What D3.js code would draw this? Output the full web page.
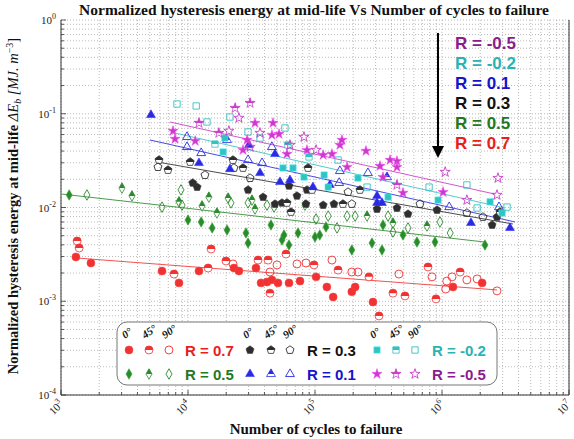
<!DOCTYPE html>
<html>
<head>
<meta charset="utf-8">
<script src="https://cdn.jsdelivr.net/npm/d3@7"></script>
<style>
  body { margin: 0; background: #fff; }
  svg { display: block; }
</style>
</head>
<body>
<script>
// Chart size
var W = 574, H = 439;
var pLeft = 61, pRight = 569, pTop = 20, pBottom = 395;

// tick values
const xTicks = [1e3, 1e4, 1e5, 1e6, 1e7];
const yTicks = [1e-4, 1e-3, 1e-2, 1e-1, 1e0];

// R = 0.7 (circles)   [N, dEb]
const red0 = [[1.31e3,2.97e-3],[1.72e3,2.56e-3],[6.24e3,2.10e-3],[8.49e3,1.57e-3],[1.22e4,2.10e-3],[2.30e4,2.26e-3],[2.52e4,2.10e-3],[3.43e4,2.26e-3],[3.76e4,1.57e-3],[4.19e4,1.60e-3],[4.58e4,1.69e-3],[5.11e4,1.57e-3],[6.24e4,1.57e-3],[7.62e4,1.64e-3],[1.02e5,1.82e-3],[1.24e5,1.42e-3],[1.39e5,1.11e-3],[2.07e5,1.42e-3],[1.95e5,1.26e-3],[2.86e5,9.8e-4],[1.22e6,1.42e-3],[2.07e6,1.57e-3]];
const red45 = [[1.34e3,4.39e-3],[1.39e3,3.70e-3],[7.76e3,1.95e-3],[1.44e4,2.26e-3],[1.52e4,3.61e-3],[1.99e4,2.69e-3],[3.56e4,2.75e-3],[4.27e4,2.75e-3],[4.42e4,1.22e-3],[5.91e4,3.19e-3],[9.82e4,2.44e-3],[1.52e5,2.15e-3],[2.66e5,1.82e-3],[3.19e5,6.97e-4],[4.11e5,1.22e-3],[5.11e5,1.14e-3],[7.76e5,2.32e-3],[8.97e5,1.06e-3],[1.39e6,2.05e-3]];
const red90 = [[2.26e4,2.50e-3],[5.02e4,2.44e-3],[4.42e4,2.05e-3],[7.21e4,2.50e-3],[8.49e4,2.56e-3],[1.36e5,2.75e-3],[1.95e5,2.05e-3],[2.18e5,2.05e-3],[4.58e5,1.95e-3],[8.34e5,1.82e-3],[1.20e6,1.82e-3],[1.09e6,1.64e-3],[1.07e6,1.35e-3],[1.57e6,1.69e-3],[1.89e6,1.73e-3],[2.71e6,1.29e-3]];
const redFit = [[1.34e3,2.89e-3],[2.71e6,1.32e-3]];

// R = 0.5 (diamonds)
const green0 = [[1.16e3,0.0136],[1.0e4,0.00736],[1.27e4,0.00701],[1.55e4,0.00605],[2.03e4,0.00576],[2.86e4,0.00535],[2.97e4,0.00418],[4.50e4,0.00651],[5.50e4,0.0045],[5.70e4,0.00509],[6.24e4,0.00398],[7.35e4,0.00535],[1.0e5,0.00485],[1.09e5,0.00509],[1.22e5,0.0062],[1.95e5,0.00352],[2.81e5,0.00418],[3.37e5,0.00352],[3.43e5,0.00651],[4.93e5,0.00509],[6.35e5,0.00428],[8.81e5,0.00428],[2.18e6,0.00398]];
const green45 = [[3.02e3,0.0161],[3.62e3,0.0133],[8.49e3,0.0115],[1.46e4,0.0129],[1.29e4,0.0104],[1.69e4,0.00874],[2.07e4,0.0126],[3.37e4,0.00964],[3.19e4,0.0120],[8.34e4,0.0106],[2.57e5,0.00811],[4.11e5,0.00684],[7.62e5,0.00635]];
const green90 = [[1.60e3,0.0136],[6.24e3,0.0101],[8.81e3,0.0154],[8.97e3,0.0106],[2.18e4,0.0112],[2.97e4,0.0112],[4.19e4,0.0106],[4.76e4,0.0101],[1.02e5,0.00754],[1.27e5,0.00811],[1.49e5,0.00605],[1.79e5,0.00811],[2.07e5,0.00811],[3.76e5,0.00811],[4.11e5,0.00548],[5.40e5,0.00605],[9.64e5,0.00701],[1.16e6,0.00535]];
const greenFit = [[1.02e3,0.0139],[2.18e6,0.00428]];

// R = 0.3 (pentagons)
const black0 = [[1.09e4,0.0183],[1.18e4,0.0165],[2.97e4,0.0154],[3.90e4,0.0129],[4.84e4,0.0109],[5.50e4,0.0112],[6.24e4,0.0170],[7.21e4,0.0133],[8.65e4,0.0154],[8.49e4,0.0109],[1.16e5,0.0106],[1.41e5,0.0109],[3.08e5,0.00964],[4.42e5,0.00988],[5.40e5,0.00853],[9.14e5,0.0094],[2.48e6,0.00651],[2.71e6,0.00792]];
const black45 = [[5.91e3,0.0321],[6.96e3,0.0251],[1.04e4,0.0306],[2.26e4,0.0321],[2.71e4,0.0264],[6.02e4,0.0112],[6.47e4,0.00896],[8.81e4,0.0264],[9.47e4,0.0154],[1.66e5,0.0109],[2.26e5,0.0154],[2.86e6,0.00896]];
const black90 = [[5.80e3,0.0270],[1.36e4,0.0222],[2.30e4,0.0264],[3.08e4,0.0206],[1.82e5,0.0146],[1.95e5,0.0109],[6.71e5,0.0109],[1.57e6,0.00874],[2.10e6,0.00792]];
const blackFit = [[5.70e3,0.0306],[3.62e6,0.00667]];

// R = 0.1 (triangles)
const blue0 = [[5.11e3,0.097],[1.22e4,0.0298],[2.14e4,0.0257],[3.02e4,0.0464],[3.69e4,0.0233],[4.84e4,0.0372],[5.30e4,0.0187],[6.35e4,0.0196],[9.64e4,0.0165],[1.31e5,0.0174],[3.08e5,0.0133],[3.08e5,0.0112],[3.37e5,0.0112],[1.69e6,0.00684],[3.43e6,0.00605]];
const blue45 = [[2.03e4,0.0525],[3.69e5,0.0211]];
const blue90 = [[9.82e3,0.0565],[9.82e3,0.0442],[1.27e4,0.0381],[3.83e4,0.0298],[2.97e4,0.0321],[4.58e4,0.0442],[1.57e5,0.0245],[1.55e5,0.0183],[2.61e5,0.0233],[1.14e6,0.0101],[2.81e6,0.0101]];
const blueFit = [[5.02e3,0.0525],[3.76e6,0.00701]];

// R = -0.2 (squares)
const cyan0 = [[1.95e4,0.0551],[1.89e4,0.0391],[5.60e4,0.0264],[6.71e4,0.0264],[8.19e4,0.0211],[1.18e5,0.0222],[1.27e5,0.0165],[2.18e5,0.0206],[3.76e5,0.0129],[9.31e5,0.012],[2.39e6,0.0115],[2.97e6,0.00874]];
const cyan45 = [[1.63e4,0.0475],[6.12e4,0.0464],[8.97e4,0.0346]];
const cyan90 = [[8.19e3,0.127],[1.16e4,0.121],[1.41e4,0.0817],[2.14e4,0.0923],[2.97e4,0.0638],[3.69e4,0.0551],[5.80e4,0.0705],[1.52e5,0.0321],[2.57e5,0.0165],[7.91e5,0.0165],[1.57e6,0.0174],[1.89e6,0.00988],[3.25e6,0.0101]];
const cyanFit = [[7.90e3,0.0623],[3.13e6,0.00988]];

// R = -0.5 (stars)
const pink0 = [[7.62e3,0.0655],[7.90e3,0.0538],[1.14e4,0.0512],[2.92e4,0.0525],[3.37e4,0.0797],[4.58e4,0.0593],[4.67e4,0.0797],[5.21e4,0.0608],[6.02e4,0.0372],[8.65e4,0.041],[2.71e4,0.041],[1.16e5,0.0363],[1.36e5,0.0372],[1.57e5,0.0464],[1.63e5,0.0525],[2.52e5,0.0401],[3.25e5,0.0277],[3.90e5,0.0321],[4.42e5,0.0313],[4.42e5,0.027],[1.79e5,0.027],[3.43e5,0.0211],[4.93e5,0.0143],[1.02e6,0.0146]];
const pink45 = [[1.22e4,0.0797],[1.75e4,0.0623],[2.35e4,0.115],[3.08e4,0.130],[4.42e5,0.0174]];
const pink90 = [[2.10e4,0.0655],[2.52e4,0.0901],[3.69e4,0.0623],[6.35e4,0.0464],[8.19e4,0.0565],[1.02e5,0.041],[3.08e4,0.0442],[1.06e6,0.0239],[1.57e6,0.012],[2.76e6,0.0206],[2.71e6,0.0136]];
const pinkFit = [[7.21e3,0.0817],[2.61e6,0.0139]];

const rLabels = ["R = 0.7", "R = 0.5", "R = 0.3", "R = 0.1", "R = -0.2", "R = -0.5"];
const angles = ["0°", "45°", "90°"];

// custom pentagon symbol
var symbolPentagon = {
  draw: function (ctx, size) {
    var r = Math.sqrt(size / 2.378);
    for (var i = 0; i < 5; i++) {
      var a = -Math.PI / 2 + i * 2 * Math.PI / 5;
      if (i === 0) ctx.moveTo(r * Math.cos(a), r * Math.sin(a));
      else ctx.lineTo(r * Math.cos(a), r * Math.sin(a));
    }
    ctx.closePath();
  }
};

// series table built from the arrays above
var series = [
  {name: rLabels[0], color: "#f03232", text: "#e81e1e", shape: d3.symbolCircle, size: 50, pts: [red0, red45, red90], fit: redFit},
  {name: rLabels[1], color: "#2b8a2b", text: "#1f7a1f", shape: d3.symbolDiamond, size: 32, pts: [green0, green45, green90], fit: greenFit},
  {name: rLabels[2], color: "#2e2e2e", text: "#111111", shape: symbolPentagon, size: 42, pts: [black0, black45, black90], fit: blackFit},
  {name: rLabels[3], color: "#2a2ae0", text: "#1414cc", shape: d3.symbolTriangle, size: 34, pts: [blue0, blue45, blue90], fit: blueFit},
  {name: rLabels[4], color: "#33c2c2", text: "#2ab3b3", shape: d3.symbolSquare, size: 40, pts: [cyan0, cyan45, cyan90], fit: cyanFit},
  {name: rLabels[5], color: "#c83cc8", text: "#8c1c8c", shape: d3.symbolStar, size: 32, pts: [pink0, pink45, pink90], fit: pinkFit}
];

var xScale = d3.scaleLog().domain([1e3, 1e7]).range([pLeft, pRight]);
var yScale = d3.scaleLog().domain([1e-4, 1]).range([pBottom, pTop]);

var svg = d3.select("body").append("svg")
  .attr("width", W).attr("height", H)
  .style("font-family", "'Liberation Serif', 'Times New Roman', serif");

svg.append("defs").append("clipPath").attr("id", "topHalf")
  .append("rect").attr("x", -10).attr("y", -10).attr("width", 20).attr("height", 10);
svg.select("defs").append("clipPath").attr("id", "plotArea")
  .append("rect").attr("x", pLeft).attr("y", pTop).attr("width", pRight - pLeft).attr("height", pBottom - pTop);

// grid (major + minor, dotted)
var gridX = [], gridY = [];
for (var d = 3; d < 7; d++) for (var k = 1; k < 10; k++) gridX.push(k * Math.pow(10, d));
for (var d = -4; d < 0; d++) for (var k = 1; k < 10; k++) gridY.push(k * Math.pow(10, d));

var grid = svg.append("g").attr("stroke", "#a8a8a8").attr("stroke-width", 0.8).attr("stroke-dasharray", "1,2");
grid.selectAll(".gx").data(gridX.concat([1e7])).enter().append("line")
  .attr("x1", d => xScale(d)).attr("x2", d => xScale(d)).attr("y1", pTop).attr("y2", pBottom);
grid.selectAll(".gy").data(gridY.concat([1])).enter().append("line")
  .attr("y1", d => yScale(d)).attr("y2", d => yScale(d)).attr("x1", pLeft).attr("x2", pRight);

// fit lines
var plot = svg.append("g").attr("clip-path", "url(#plotArea)");
var line = d3.line().x(d => xScale(d[0])).y(d => yScale(d[1]));
series.forEach(function (s) {
  plot.append("path").attr("d", line(s.fit)).attr("fill", "none")
    .attr("stroke", s.color).attr("stroke-width", 1).attr("opacity", 0.85);
});

// one marker: mode 0 filled, 1 half, 2 hollow
function drawMarker(g, s, mode) {
  var p = d3.symbol(s.shape, s.size)();
  if (mode === 0) {
    g.append("path").attr("d", p).attr("fill", s.color)
      .attr("stroke", d3.color(s.color).brighter(0.6)).attr("stroke-width", 0.6);
  } else if (mode === 1) {
    g.append("path").attr("d", p).attr("fill", "#fff").attr("stroke", s.color).attr("stroke-width", 0.8);
    g.append("path").attr("d", p).attr("fill", s.color).attr("clip-path", "url(#topHalf)");
  } else {
    g.append("path").attr("d", p).attr("fill", "none").attr("stroke", s.color).attr("stroke-width", 0.9);
  }
}

series.forEach(function (s) {
  s.pts.forEach(function (arr, mode) {
    plot.selectAll(null).data(arr).enter().append("g")
      .attr("transform", d => "translate(" + xScale(d[0]) + "," + yScale(d[1]) + ")")
      .each(function () { drawMarker(d3.select(this), s, mode); });
  });
});

// frame
svg.append("path")
  .attr("d", "M" + pLeft + "," + pTop + "V" + pBottom + "H" + pRight + "V" + pTop)
  .attr("fill", "none").attr("stroke", "#333").attr("stroke-width", 1);

// axes ticks (inward)
var xAxis = svg.append("g");
xAxis.selectAll(".mt").data(gridX.concat([1e7])).enter().append("line")
  .attr("x1", d => xScale(d)).attr("x2", d => xScale(d))
  .attr("y1", pBottom).attr("y2", d => xTicks.indexOf(d) >= 0 ? pBottom - 5 : pBottom - 3)
  .attr("stroke", "#333").attr("stroke-width", 0.8);
var yAxis = svg.append("g");
yAxis.selectAll(".mt").data(gridY.concat([1])).enter().append("line")
  .attr("y1", d => yScale(d)).attr("y2", d => yScale(d))
  .attr("x1", pLeft).attr("x2", d => yTicks.indexOf(d) >= 0 ? pLeft + 5 : pLeft + 3)
  .attr("stroke", "#333").attr("stroke-width", 0.8);

// y tick labels
yTicks.forEach(function (t) {
  var txt = svg.append("text").attr("x", 56).attr("y", yScale(t) + 4)
    .attr("text-anchor", "end").style("font-size", "11px").attr("fill", "#222");
  txt.append("tspan").text("10");
  txt.append("tspan").attr("dy", -5).style("font-size", "8px").text(Math.round(Math.log10(t)));
});

// x tick labels (rotated)
xTicks.forEach(function (t) {
  var px = xScale(t);
  var txt = svg.append("text").attr("transform", "translate(" + (px + 3) + ",405) rotate(-45)")
    .attr("text-anchor", "end").style("font-size", "11px").attr("fill", "#222");
  txt.append("tspan").text("10");
  txt.append("tspan").attr("dy", -5).style("font-size", "8px").text(Math.round(Math.log10(t)));
});

// titles
svg.append("text").attr("x", 314).attr("y", 15).attr("text-anchor", "middle")
  .style("font-size", "15.5px").style("font-weight", "bold").attr("fill", "#111")
  .text("Normalized hysteresis energy at mid-life Vs Number of cycles to failure");

svg.append("text").attr("x", 316).attr("y", 434).attr("text-anchor", "middle")
  .style("font-size", "15px").style("font-weight", "bold").attr("fill", "#111")
  .text("Number of cycles to failure");

var yl = svg.append("text").attr("transform", "translate(18,206) rotate(-90)")
  .attr("text-anchor", "middle").style("font-size", "14.5px").attr("fill", "#111");
yl.append("tspan").style("font-weight", "bold").text("Normalized hysteresis energy at mid-life ");
yl.append("tspan").style("font-style", "italic").text("\u0394E");
yl.append("tspan").attr("dy", 3).style("font-size", "10px").style("font-style", "italic").text("b");
yl.append("tspan").attr("dy", -3).style("font-style", "italic").text(" [MJ. m");
yl.append("tspan").attr("dy", -5).style("font-size", "10px").text("\u22123");
yl.append("tspan").attr("dy", 5).text("]");

// arrow + R labels (top right)
svg.append("line").attr("x1", 438).attr("x2", 438).attr("y1", 33).attr("y2", 148)
  .attr("stroke", "#000").attr("stroke-width", 2);
svg.append("path").attr("d", "M432,146L444,146L438,158Z").attr("fill", "#000");
var annot = [5, 4, 3, 2, 1, 0];
annot.forEach(function (si, i) {
  svg.append("text").attr("x", 455).attr("y", 49 + i * 20)
    .style("font-family", "'Liberation Sans', Arial, sans-serif")
    .style("font-size", "17px").style("font-weight", "bold")
    .attr("fill", series[si].text).text(series[si].name);
});

// legend box
svg.append("rect").attr("x", 117).attr("y", 322).attr("width", 380).attr("height", 63)
  .attr("rx", 10).attr("fill", "#fff").attr("stroke", "#777").attr("stroke-width", 1);

var legCols = [
  {mx: [129, 149, 169], lx: 185, rows: [0, 1]},
  {mx: [250, 271, 290], lx: 307, rows: [2, 3]},
  {mx: [377, 396, 415], lx: 432, rows: [4, 5]}
];
legCols.forEach(function (c) {
  angles.forEach(function (a, j) {
    svg.append("text").attr("transform", "translate(" + (c.mx[j] - 4) + ",339) rotate(-35)")
      .style("font-size", "11px").style("font-weight", "bold").style("font-style", "italic")
      .attr("fill", "#111").text(a);
  });
  c.rows.forEach(function (si, r) {
    var yy = 350 + r * 24;
    c.mx.forEach(function (mx, mode) {
      drawMarker(svg.append("g").attr("transform", "translate(" + mx + "," + yy + ")"), series[si], mode);
    });
    svg.append("text").attr("x", c.lx).attr("y", yy + 5.5)
      .style("font-family", "'Liberation Sans', Arial, sans-serif")
      .style("font-size", "15px").style("font-weight", "bold")
      .attr("fill", series[si].text).text(series[si].name);
  });
});
</script>
</body>
</html>
